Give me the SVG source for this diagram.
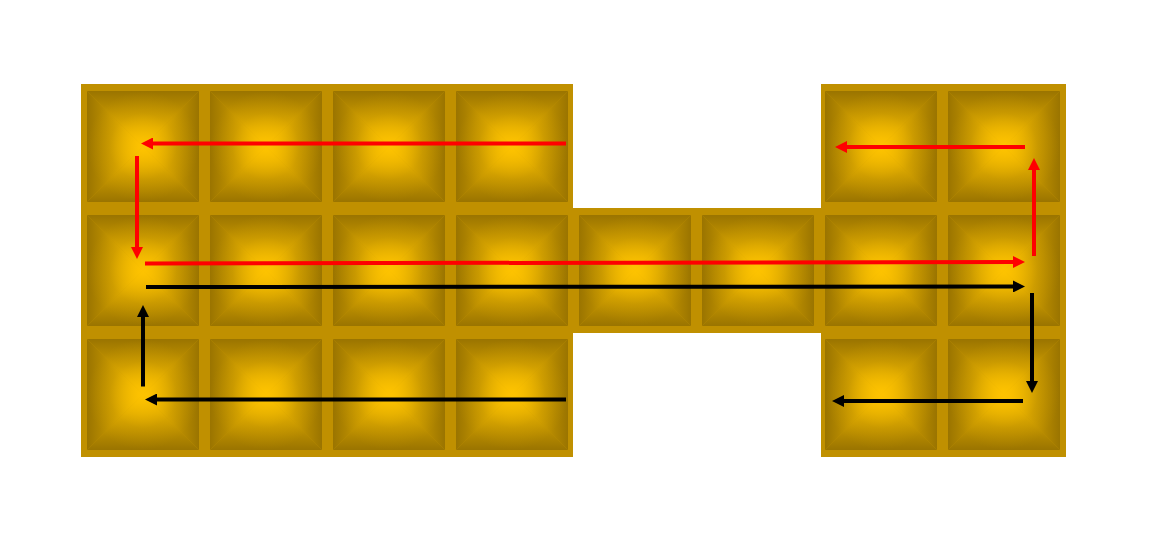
<svg xmlns="http://www.w3.org/2000/svg" xmlns:xlink="http://www.w3.org/1999/xlink" width="1150" height="544" viewBox="0 0 1150 544">
<style>
.bg{fill:#c09000;}
.red{stroke:#ff0000;stroke-width:4;fill:none;}
.blk{stroke:#000000;stroke-width:4;fill:none;}
</style>
<defs>
<linearGradient id="gT" x1="0" y1="0" x2="0" y2="1"><stop offset="0" stop-color="#9a7400"/><stop offset="1" stop-color="#f8be00"/></linearGradient>
<linearGradient id="gB" x1="0" y1="1" x2="0" y2="0"><stop offset="0" stop-color="#9a7400"/><stop offset="1" stop-color="#f8be00"/></linearGradient>
<linearGradient id="gL" x1="0" y1="0" x2="1" y2="0"><stop offset="0" stop-color="#9a7400"/><stop offset="1" stop-color="#f8be00"/></linearGradient>
<linearGradient id="gR" x1="1" y1="0" x2="0" y2="0"><stop offset="0" stop-color="#9a7400"/><stop offset="1" stop-color="#f8be00"/></linearGradient>
<radialGradient id="gC" cx="0.5" cy="0.5" r="0.5"><stop offset="0" stop-color="#ffc400" stop-opacity="0.85"/><stop offset="0.6" stop-color="#ffc400" stop-opacity="0.15"/><stop offset="1" stop-color="#ffc400" stop-opacity="0"/></radialGradient>
<g id="tile">
<polygon points="0,0 112,0 56,55.5" fill="url(#gT)"/>
<polygon points="0,111 112,111 56,55.5" fill="url(#gB)"/>
<polygon points="0,0 0,111 56,55.5" fill="url(#gL)"/>
<polygon points="112,0 112,111 56,55.5" fill="url(#gR)"/>
<rect width="112" height="111" fill="url(#gC)"/>
</g>
<marker id="mR" markerUnits="userSpaceOnUse" markerWidth="12" markerHeight="12" refX="4" refY="6" orient="auto" viewBox="0 0 12 12"><path d="M0,0 L12,6 L0,12 Z" fill="#ff0000"/></marker>
<marker id="mK" markerUnits="userSpaceOnUse" markerWidth="12" markerHeight="12" refX="4" refY="6" orient="auto" viewBox="0 0 12 12"><path d="M0,0 L12,6 L0,12 Z" fill="#000000"/></marker>
</defs>
<path id="base" class="bg" d="M81,84 H573 V208 H821 V84 H1066 V457 H821 V333 H573 V457 H81 Z"/>
<g id="tiles">
<g id="t-r1c1"><use href="#tile" x="87" y="91"/></g>
<g id="t-r1c2"><use href="#tile" x="210" y="91"/></g>
<g id="t-r1c3"><use href="#tile" x="333" y="91"/></g>
<g id="t-r1c4"><use href="#tile" x="456" y="91"/></g>
<g id="t-r1c7"><use href="#tile" x="825" y="91"/></g>
<g id="t-r1c8"><use href="#tile" x="948" y="91"/></g>
<g id="t-r2c1"><use href="#tile" x="87" y="215"/></g>
<g id="t-r2c2"><use href="#tile" x="210" y="215"/></g>
<g id="t-r2c3"><use href="#tile" x="333" y="215"/></g>
<g id="t-r2c4"><use href="#tile" x="456" y="215"/></g>
<g id="t-r2c5"><use href="#tile" x="579" y="215"/></g>
<g id="t-r2c6"><use href="#tile" x="702" y="215"/></g>
<g id="t-r2c7"><use href="#tile" x="825" y="215"/></g>
<g id="t-r2c8"><use href="#tile" x="948" y="215"/></g>
<g id="t-r3c1"><use href="#tile" x="87" y="339"/></g>
<g id="t-r3c2"><use href="#tile" x="210" y="339"/></g>
<g id="t-r3c3"><use href="#tile" x="333" y="339"/></g>
<g id="t-r3c4"><use href="#tile" x="456" y="339"/></g>
<g id="t-r3c7"><use href="#tile" x="825" y="339"/></g>
<g id="t-r3c8"><use href="#tile" x="948" y="339"/></g>
</g>
<g id="connectors">
<line class="red" x1="566" y1="143.5" x2="149" y2="143.5" marker-end="url(#mR)"/>
<line class="red" x1="137" y1="156" x2="137" y2="251" marker-end="url(#mR)"/>
<line class="red" x1="145" y1="263.5" x2="1017" y2="262" marker-end="url(#mR)"/>
<line class="red" x1="1034" y1="256" x2="1034" y2="166" marker-end="url(#mR)"/>
<line class="red" x1="1025" y1="147" x2="843" y2="147" marker-end="url(#mR)"/>
<line class="blk" x1="146" y1="287" x2="1017" y2="286.5" marker-end="url(#mK)"/>
<line class="blk" x1="1032" y1="293" x2="1032" y2="385" marker-end="url(#mK)"/>
<line class="blk" x1="1023" y1="401" x2="840" y2="401" marker-end="url(#mK)"/>
<line class="blk" x1="566" y1="399.5" x2="153" y2="399.5" marker-end="url(#mK)"/>
<line class="blk" x1="143" y1="386.5" x2="143" y2="313" marker-end="url(#mK)"/>
</g>
</svg>
